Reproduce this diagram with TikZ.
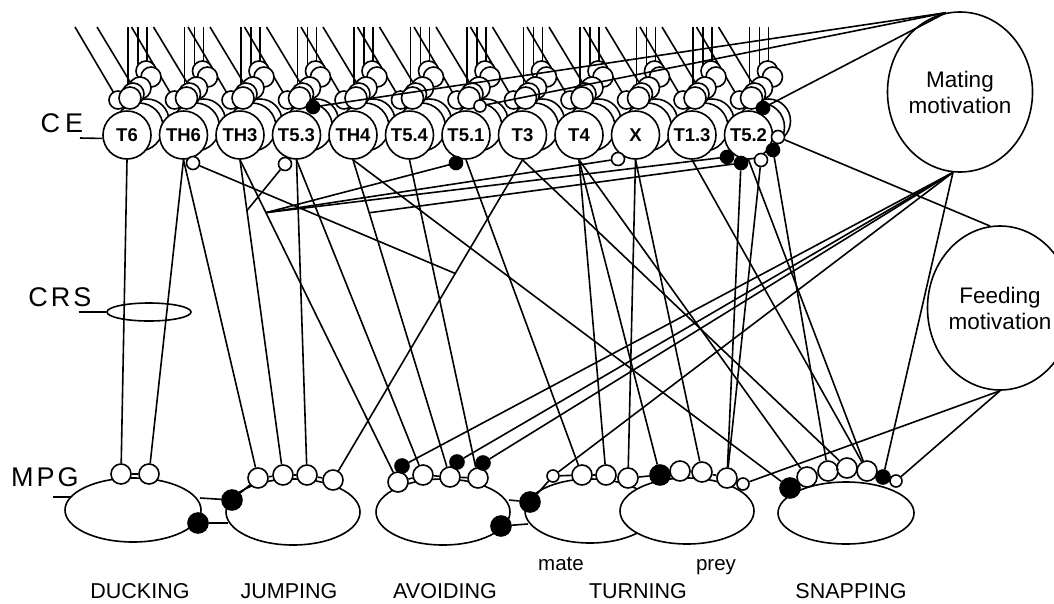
\documentclass[tikz,border=0pt]{standalone}
\usepackage{fontspec}
\setmainfont{Liberation Sans}
\usetikzlibrary{shapes.geometric}
\begin{document}
\begin{tikzpicture}[x=1pt,y=-1pt,line width=1.6pt,
  cell/.style={circle,draw,fill=white,inner sep=0pt,minimum size=#1},
  inh/.style={circle,draw,fill=black,inner sep=0pt,minimum size=#1},
  neuron/.style={circle,draw,fill=white,inner sep=0pt,minimum size=48pt,font=\bfseries\fontsize{18.5}{19}\selectfont},
  mpg/.style={ellipse,draw,fill=white,inner sep=0pt},
  motiv/.style={ellipse,draw,fill=white,inner sep=0pt,align=center,font=\fontsize{22.5}{26}\selectfont},
  lab/.style={font=\fontsize{21.5}{24}\selectfont,anchor=base},
  sub/.style={font=\fontsize{20.5}{22}\selectfont,anchor=base},
  side/.style={font=\fontsize{27}{28}\selectfont},
]
\useasboundingbox (0,0) rectangle (1054,603);
% hatch lines above CE
\foreach \x in {127,183.5,240,296.5,353,409.5,466,522.5,579,635.5,692,748.5}{
  \draw (\x-52,27) -- (\x-9,100);
  \draw (\x-30,27) -- (\x+8,90);
  \draw (\x+1,27) -- (\x+1,95);
  \draw (\x+11,27) -- (\x+11,85);
  \draw (\x+20,27) -- (\x+20,72);
}
% CE clusters
\newcommand\cecluster[3]{%
  \begin{scope}[shift={(#1,135)}]
  \node[cell=20pt] at (19,-64) {};
  \node[cell=20pt] at (24,-58) {};
  \node[cell=22pt] at (13,-47) {};
  \node[cell=44pt] at (20,-14) {};
  \node[cell=48pt] at (12,-8) {};
  \node[cell=22pt] at (6,-41) {};
  \node[cell=18pt] at (-9,-35) {};
  \node[cell=22pt] at (3,-37) {};
  \node[neuron] (#2) at (0,0) {#3};
  \end{scope}}
\cecluster{127}{T6}{T6}
\cecluster{183.5}{TH6}{TH6}
\cecluster{240}{TH3}{TH3}
\cecluster{296.5}{T53}{T5.3}
\cecluster{353}{TH4}{TH4}
\cecluster{409.5}{T54}{T5.4}
\cecluster{466}{T51}{T5.1}
\cecluster{522.5}{T3}{T3}
\cecluster{579}{T4}{T4}
\cecluster{635.5}{X}{X}
\cecluster{692}{T13}{T1.3}
\cecluster{748.5}{T52}{T5.2}
% synapses on CE neurons
\node[cell=13pt] (TH6w) at (193,163) {};
\node[cell=13pt] (T53w) at (285,164) {};
\node[inh=13pt] (T53b) at (313,107) {};
\node[inh=13pt] (T51b) at (456,163) {};
\node[cell=12pt] (T51w) at (480,106) {};
\node[cell=13pt] (Xw) at (618,159) {};
\node[inh=13pt] (T52b0) at (763,108) {};
\node[inh=13pt] (T52b1) at (727,157) {};
\node[inh=13pt] (T52b2) at (741,163) {};
\node[cell=13pt] (T52w1) at (761,160) {};
\node[inh=13pt] (T52b3) at (773,150) {};
\node[cell=13pt] (T52w2) at (778,137) {};
% motivation
\node[motiv,minimum width=114pt,minimum height=160pt] (MAT) at (960,92) {Mating\\motivation};
\node[motiv,minimum width=106pt,minimum height=164pt] (FEED) at (1000,308) {Feeding\\motivation};
% side labels
\node[side] at (62,123) {C\hspace{5pt}E};
\coordinate (ceL) at (80,138);
\draw (ceL) -- (T6.188);
\node[side] at (60,297) {C\hspace{3pt}R\hspace{3pt}S};
\node[ellipse,draw,inner sep=0pt,minimum width=84pt,minimum height=18pt] (CRS) at (149,312) {};
\coordinate (crsL) at (79,312);
\draw (crsL) -- (CRS.west);
\node[side] at (45,477) {M\hspace{3pt}P\hspace{3pt}G};
\coordinate (mpgL) at (53,497);
\coordinate (mpgR) at (80,497);
\draw (mpgL) -- (mpgR);
% MPG ellipses
\node[mpg,minimum width=136pt,minimum height=64pt] (DUCK) at (133,510) {};
\node[mpg,minimum width=134pt,minimum height=66pt] (JUMP) at (293,512) {};
\node[mpg,minimum width=134pt,minimum height=66pt] (AVOID) at (443,512) {};
\node[mpg,minimum width=130pt,minimum height=64pt] (MATE) at (590,511) {};
\node[mpg,minimum width=134pt,minimum height=66pt] (PREY) at (687,511) {};
\node[mpg,minimum width=136pt,minimum height=62pt] (SNAP) at (846,513) {};
% MPG input cells
\node[cell=20pt] (D1) at (121,474) {};
\node[cell=20pt] (D2) at (149,474) {};
\node[inh=20pt] (Jd) at (232,500) {};
\node[inh=20pt] (Dd) at (198,523) {};
\node[cell=20pt] (J1) at (258,478) {};
\node[cell=20pt] (J2) at (283,475) {};
\node[cell=20pt] (J3) at (307,475) {};
\node[cell=20pt] (J4) at (333,480) {};
\node[cell=20pt] (A1) at (398,482) {};
\node[cell=20pt] (A2) at (423,475) {};
\node[cell=20pt] (A3) at (450,477) {};
\node[cell=20pt] (A4) at (478,478) {};
\node[inh=14pt] (Ad1) at (402,466) {};
\node[inh=14pt] (Ad2) at (457,462) {};
\node[inh=14pt] (Ad3) at (483,463) {};
\node[inh=20pt] (Td1) at (530,502) {};
\node[inh=20pt] (Ad4) at (501,526) {};
\node[cell=12pt] (M0) at (553,476) {};
\node[cell=20pt] (M1) at (582,475) {};
\node[cell=20pt] (M2) at (606,475) {};
\node[cell=20pt] (M3) at (628,478) {};
\node[inh=20pt] (Mb) at (660,475) {};
\node[cell=20pt] (P1) at (680,471) {};
\node[cell=20pt] (P2) at (702,472) {};
\node[cell=20pt] (P3) at (727,478) {};
\node[cell=12pt] (P0) at (743,484) {};
\node[inh=20pt] (Sd) at (790,488) {};
\node[cell=20pt] (S1) at (807,477) {};
\node[cell=20pt] (S2) at (828,471) {};
\node[cell=20pt] (S3) at (847,468) {};
\node[cell=20pt] (S4) at (867,471) {};
\node[inh=14pt] (Sb) at (883,477) {};
\node[cell=12pt] (S0) at (896,481) {};
% links between MPG cells
\draw (D1) -- (D2);
\draw (Jd) -- (J1) -- (J2) -- (J3) -- (J4);
\draw (A1) -- (A2) -- (A3) -- (A4);
\draw (Td1) -- (M0) -- (M1) -- (M2) -- (M3) -- (Mb) -- (P1) -- (P2) -- (P3) -- (P0);
\draw (Sd) -- (S1) -- (S2) -- (S3) -- (S4) -- (Sb) -- (S0);
\coordinate (dj1) at (200,498);
\coordinate (dj2) at (228,523);
\draw (dj1) -- (Jd);
\draw (Dd) -- (dj2);
\coordinate (am1) at (509,500);
\coordinate (am2) at (528,524);
\draw (am1) -- (Td1);
\draw (Ad4) -- (am2);
% CE -> MPG
\draw (T6.south) -- (D1);
\draw (TH6.south) -- (D2);
\draw (TH6.south) -- (J1);
\draw (TH3.south) -- (J2);
\draw (TH3.south) -- (A1);
\draw (T53.south) -- (J3);
\draw (T53.south) -- (A2);
\draw (T3.south) -- (J4);
\draw (TH4.south) -- (A3);
\draw (TH4.south) -- (Sd);
\draw (T54.south) -- (A4);
\draw (T51.south) -- (M1);
\draw (T4.south) -- (M2);
\draw (T4.south) -- (Mb);
\draw (T4.south) -- (S1);
\draw (X.south) -- (M3);
\draw (X.south) -- (P2);
\draw (T3.south) -- (S3);
\draw (T13.south) -- (S4);
\draw (T52b2) -- (P3);
\draw (T52w1) -- (P3);
\draw (T52.south) -- (S4);
\draw (T52b3) -- (S2);
% branch points on projection lines
\path (TH3.south) -- (J2.center) coordinate[pos=0.161] (b0);
\path (TH3.south) -- (A1.center) coordinate[pos=0.164] (b1);
\path (TH4.south) -- (A3.center) coordinate[pos=0.167] (b2);
\path (T3.south) -- (J4.center) coordinate[pos=0.355] (b3);
\draw (T53w) -- (b0);
\draw (TH6w) -- (b3);
\draw (b1) -- (T51b);
\draw (b1) -- (Xw);
\draw (b1) -- (T52b1);
\draw (b2) -- (T52b2);
% motivation connections
\draw (T53b) -- (MAT.100);
\draw (T51w) -- (MAT.100);
\draw (T52b0) -- (MAT.100);
\draw (MAT.265) -- (Ad1);
\draw (MAT.265) -- (Ad2);
\draw (MAT.265) -- (Ad3);
\draw (MAT.265) -- (M0);
\draw (MAT.265) -- (Sb);
\draw (T52w2) -- (FEED.97);
\draw (FEED.south) -- (P0);
\draw (FEED.south) -- (S0);
% labels
\node[lab] at (140,598) {DUCKING};
\node[lab] at (289,598) {JUMPING};
\node[lab] at (445,598) {AVOIDING};
\node[lab] at (638,598) {TURNING};
\node[lab] at (851,598) {SNAPPING};
\node[sub] at (561,570) {mate};
\node[sub] at (716,570) {prey};
\end{tikzpicture}
\end{document}
